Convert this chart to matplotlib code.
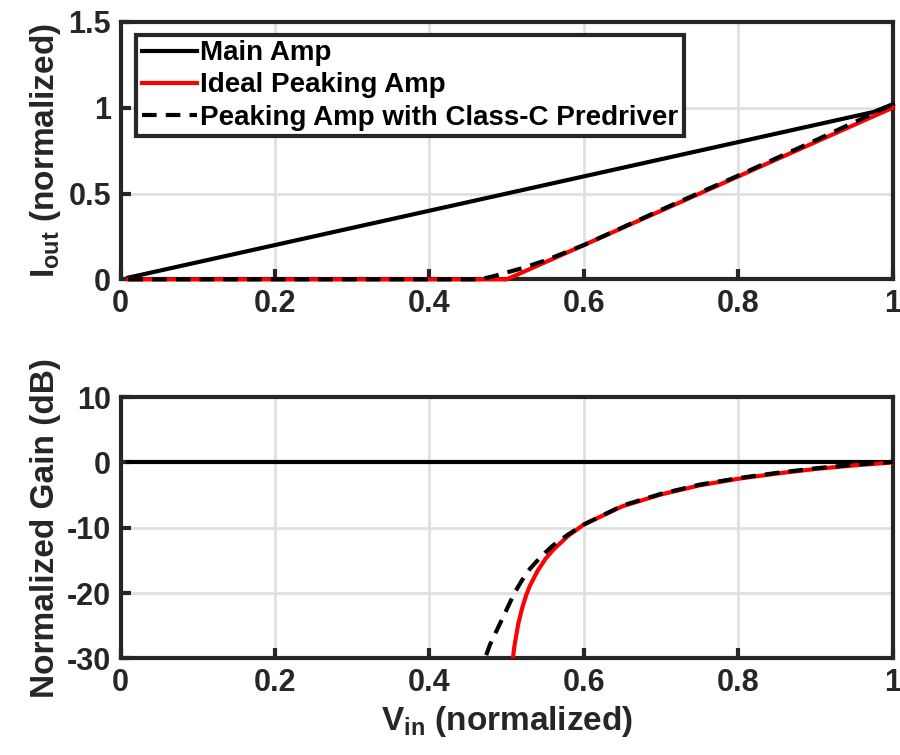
import matplotlib
matplotlib.use("Agg")
import matplotlib.pyplot as plt

# =================================
# DATA
# =================================

# top panel: output current
main_x = [0.01, 0.975, 1.0]
main_i = [0.01, 0.975, 1.02]

ideal_x = [0.01, 0.5, 1.0]
ideal_i = [0.0, 0.0, 1.0]

classc_x = [0.01, 0.46, 0.47, 0.48, 0.49, 0.50, 0.52, 0.55, 0.60, 0.70, 0.80, 0.90, 0.95, 1.0]
classc_i = [0.0, 0.0, 0.005, 0.015, 0.027, 0.04, 0.065, 0.11, 0.20, 0.405, 0.605, 0.81, 0.915, 1.02]

# bottom panel: normalized gain (dB)
gain_main_x = [0.01, 1.0]
gain_main_db = [0.0, 0.0]

gain_ideal_x = [0.505, 0.508, 0.51, 0.515, 0.52, 0.525, 0.53, 0.54, 0.55, 0.56, 0.58,
                0.60, 0.65, 0.70, 0.75, 0.80, 0.85, 0.90, 0.95, 1.0]
gain_ideal_db = [-34.0, -30.0, -28.1, -24.7, -22.3, -20.4, -18.9, -16.6, -14.8, -13.4, -11.2,
                 -9.5, -6.7, -4.9, -3.5, -2.5, -1.7, -1.0, -0.45, 0.0]

gain_classc_x = [0.465, 0.472, 0.478, 0.484, 0.49, 0.50, 0.51, 0.52, 0.53, 0.54, 0.55, 0.56, 0.58,
                 0.60, 0.65, 0.70, 0.75, 0.80, 0.85, 0.90, 0.95, 1.0]
gain_classc_db = [-33.0, -30.0, -28.0, -26.5, -25.0, -22.5, -20.0, -18.0, -16.3, -15.0, -13.8, -12.7, -11.0,
                  -9.5, -6.6, -4.8, -3.4, -2.4, -1.6, -0.9, -0.35, 0.1]

x_ticks = [0, 0.2, 0.4, 0.6, 0.8, 1]
x_ticklabels = ["0", "0.2", "0.4", "0.6", "0.8", "1"]
top_yticks = [0, 0.5, 1, 1.5]
top_yticklabels = ["0", "0.5", "1", "1.5"]
bot_yticks = [-30, -20, -10, 0, 10]
bot_yticklabels = ["-30", "-20", "-10", "0", "10"]

# =================================
# STYLE
# =================================

plt.rcParams["font.family"] = ["Liberation Sans", "DejaVu Sans"]
plt.rcParams["font.weight"] = "bold"
plt.rcParams["mathtext.fontset"] = "custom"
plt.rcParams["mathtext.rm"] = "Liberation Sans:bold"
plt.rcParams["mathtext.bf"] = "Liberation Sans:bold"

axis_color = "#262626"
grid_color = "#e0e0e0"
tick_size = 22
label_size = 24

fig = plt.figure(figsize=(9, 7.55), dpi=100)
ax1 = fig.add_axes([0.134, 0.630, 0.858, 0.341])
ax2 = fig.add_axes([0.134, 0.128, 0.858, 0.346])


def style_axis(ax):
    for s in ax.spines.values():
        s.set_linewidth(3)
        s.set_color(axis_color)
    ax.grid(True, color=grid_color, linewidth=2)
    ax.set_axisbelow(True)
    ax.tick_params(direction="in", length=7, width=3, colors=axis_color,
                   labelsize=tick_size, pad=7, top=False, right=False)
    for lab in ax.get_xticklabels() + ax.get_yticklabels():
        lab.set_fontweight("bold")


# =================================
# TOP: OUTPUT CURRENT
# =================================

ax1.plot(main_x, main_i, color="black", linewidth=3, label="Main Amp", zorder=3, clip_on=False)
ax1.plot(ideal_x, ideal_i, color="red", linewidth=3, label="Ideal Peaking Amp", zorder=3, clip_on=False)
ax1.plot(classc_x, classc_i, color="black", linewidth=3, linestyle=(0, (3.5, 2.2)),
         label="Peaking Amp with Class-C Predriver", zorder=3, clip_on=False)

ax1.set_xlim(0, 1)
ax1.set_ylim(0, 1.5)
ax1.set_xticks(x_ticks)
ax1.set_xticklabels(x_ticklabels)
ax1.set_yticks(top_yticks)
ax1.set_yticklabels(top_yticklabels)
ax1.set_ylabel(r"I$_{\mathbf{out}}$ (normalized)", fontsize=label_size, fontweight="bold",
               color=axis_color, labelpad=4)
style_axis(ax1)

leg = ax1.legend(loc="upper left", bbox_to_anchor=(0.02, 0.95), fontsize=20,
                 frameon=True, fancybox=False, framealpha=1, handlelength=2.0, handletextpad=0.1,
                 borderpad=0.2, labelspacing=0.22, borderaxespad=0.0)
leg.get_frame().set_edgecolor(axis_color)
leg.get_frame().set_linewidth(3)
for t in leg.get_texts():
    t.set_fontweight("bold")

# =================================
# BOTTOM: NORMALIZED GAIN
# =================================

ax2.plot(gain_main_x, gain_main_db, color="black", linewidth=3, zorder=3)
ax2.plot(gain_ideal_x, gain_ideal_db, color="red", linewidth=3, zorder=3)
ax2.plot(gain_classc_x, gain_classc_db, color="black", linewidth=3, linestyle=(0, (3.5, 2.2)), zorder=3)

ax2.set_xlim(0, 1)
ax2.set_ylim(-30, 10)
ax2.set_xticks(x_ticks)
ax2.set_xticklabels(x_ticklabels)
ax2.set_yticks(bot_yticks)
ax2.set_yticklabels(bot_yticklabels)
ax2.set_ylabel("Normalized Gain (dB)", fontsize=label_size, fontweight="bold", color=axis_color, labelpad=4)
ax2.set_xlabel(r"V$_{\mathbf{in}}$ (normalized)", fontsize=label_size, fontweight="bold",
               color=axis_color, labelpad=4)
style_axis(ax2)

fig.savefig("out.png", dpi=100)
